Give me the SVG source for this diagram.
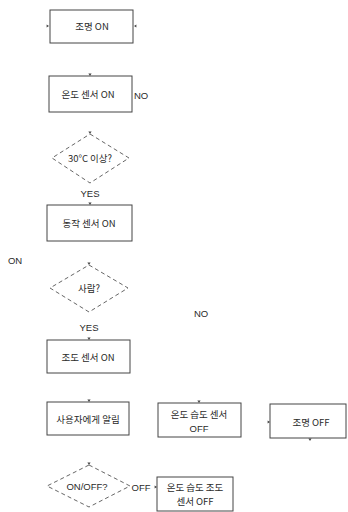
<svg xmlns="http://www.w3.org/2000/svg" width="348" height="512" viewBox="0 0 348 512">
<style>
.box{fill:#fff;stroke:#444;stroke-width:1}
.dia{fill:none;stroke:#555;stroke-width:0.9;stroke-dasharray:4 3}
text{font-family:"Noto Sans CJK KR","Liberation Sans",sans-serif;font-size:9.5px;fill:#2a2a2a;text-anchor:middle;dominant-baseline:central}
.lbl{font-family:"Liberation Sans",sans-serif}
.ah{fill:#444}
</style>
<defs>
<path id="ad" d="M-1.6,-2.4 L1.6,-2.4 L0,0 Z"/>
<path id="ar" d="M-2.4,-1.6 L-2.4,1.6 L0,0 Z"/>
<path id="al" d="M2.4,-1.6 L2.4,1.6 L0,0 Z"/>
</defs>
<rect width="348" height="512" fill="#fff"/>
<g id="n1"><rect class="box" x="50" y="10" width="83" height="33"/><text x="92" y="26">조명 ON</text></g>
<g id="n2"><rect class="box" x="49" y="76" width="83" height="36"/><text x="88" y="94">온도 센서 ON</text></g>
<g id="n3"><polygon class="dia" points="90,134 129,158 90,183 52,158"/><text x="90" y="158">30°C 이상?</text></g>
<g id="n4"><rect class="box" x="47" y="205" width="85" height="36"/><text x="89" y="223">동작 센서 ON</text></g>
<g id="n5"><polygon class="dia" points="89,265 128,288 89,312 50,288"/><text x="89" y="288">사람?</text></g>
<g id="n6"><rect class="box" x="47" y="340" width="83" height="33"/><text x="88" y="357">조도 센서 ON</text></g>
<g id="n7"><rect class="box" x="47" y="402" width="82" height="33"/><text x="88" y="419">사용자에게 알림</text></g>
<g id="n8"><rect class="box" x="158" y="403" width="83" height="34"/><text x="199" y="414">온도 습도 센서</text><text class="lbl" x="199" y="428">OFF</text></g>
<g id="n9"><rect class="box" x="270" y="404" width="76" height="34"/><text x="311" y="422">조명 OFF</text></g>
<g id="n10"><polygon class="dia" points="89,465 130,486 89,507 47,486"/><text class="lbl" x="87" y="486">ON/OFF?</text></g>
<g id="n11"><rect class="box" x="157" y="477" width="76" height="34"/><text x="195" y="487">온도 습도 조도</text><text x="195" y="501">센서 OFF</text></g>
<g id="labels">
<text class="lbl" x="141" y="95">NO</text>
<text class="lbl" x="90" y="193">YES</text>
<text class="lbl" x="15" y="260">ON</text>
<text class="lbl" x="201" y="313">NO</text>
<text class="lbl" x="89" y="327">YES</text>
<text class="lbl" x="141" y="487">OFF</text>
</g>
<g id="connectors">
<use class="ah" href="#ar" x="49" y="26"/>
<use class="ah" href="#al" x="134" y="26"/>
<use class="ah" href="#ad" x="90" y="76"/>
<use class="ah" href="#ad" x="90" y="134"/>
<use class="ah" href="#ad" x="90" y="205"/>
<use class="ah" href="#ad" x="89" y="265"/>
<use class="ah" href="#ad" x="89" y="340"/>
<use class="ah" href="#ad" x="89" y="402"/>
<use class="ah" href="#ad" x="199" y="403"/>
<use class="ah" href="#ar" x="270" y="422"/>
<use class="ah" href="#ad" x="310" y="441"/>
<use class="ah" href="#ad" x="89" y="465"/>
<use class="ah" href="#ar" x="157" y="487"/>
</g>
</svg>
